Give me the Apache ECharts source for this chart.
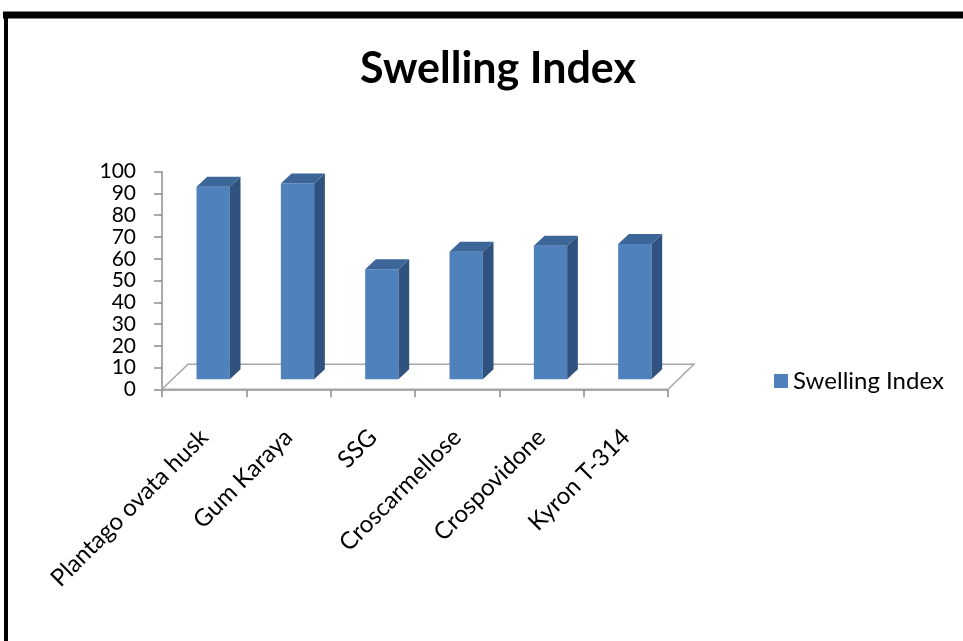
<!DOCTYPE html>
<html>
<head>
<meta charset="utf-8">
<script src="https://cdn.jsdelivr.net/npm/echarts@6/dist/echarts.min.js"></script>
<style>
  html, body { margin: 0; padding: 0; background: #fff; }
  #chart { width: 963px; height: 641px; }
</style>
</head>
<body>
<div id="chart"></div>
<script>
var categories = ['Plantago ovata husk', 'Gum Karaya', 'SSG', 'Croscarmellose', 'Crospovidone', 'Kyron T-314'];
var swellingIndex = [88.5, 90, 50.6, 58.6, 61.4, 62.2];
var yTicks = [0, 10, 20, 30, 40, 50, 60, 70, 80, 90, 100];

var FONT = 'Lato';
var front = '#4f81bd', side = '#30527e', topc = '#3c6598';

var chart = echarts.init(document.getElementById('chart'));

chart.setOption({
  backgroundColor: '#fff',
  animation: false,
  title: {
    text: 'Swelling Index',
    left: 355,
    top: 43,
    textStyle: { fontFamily: FONT, fontWeight: 'bold', fontSize: 43, color: '#000' }
  },
  legend: {
    data: ['Swelling Index'],
    left: 769,
    top: 364,
    icon: 'rect',
    itemWidth: 14,
    itemHeight: 14,
    itemGap: 8,
    textStyle: { fontFamily: FONT, fontSize: 24, color: '#000' }
  },
  graphic: [
    // outer frame (only top and left edges visible)
    { type: 'line', shape: { x1: 3, y1: 15, x2: 963, y2: 15 }, style: { stroke: '#000', lineWidth: 7 } },
    { type: 'line', shape: { x1: 6, y1: 12, x2: 6, y2: 641 }, style: { stroke: '#000', lineWidth: 4 } }
  ],
  grid: {
    left: 162,
    right: 295,
    top: 171.7,
    bottom: 251.7,
    containLabel: false,
    outerBoundsMode: 'none'
  },
  xAxis: {
    type: 'category',
    data: categories,
    boundaryGap: true,
    axisLine: { lineStyle: { color: '#8c8c8c', width: 1.5 } },
    axisTick: { show: true, length: 8, lineStyle: { color: '#8c8c8c', width: 1.5 } },
    axisLabel: {
      rotate: 45,
      margin: 44,
      interval: 0,
      fontFamily: FONT,
      fontSize: 24,
      color: '#000'
    },
    splitLine: { show: false }
  },
  yAxis: {
    type: 'value',
    min: 0,
    max: 100,
    interval: 10,
    axisLine: { show: true, lineStyle: { color: '#8c8c8c', width: 1.5 } },
    axisTick: { show: true, length: 8, lineStyle: { color: '#8c8c8c', width: 1.5 } },
    axisLabel: {
      margin: 26,
      fontFamily: FONT,
      fontSize: 21,
      color: '#000',
      formatter: function (v) { return yTicks.indexOf(v) >= 0 ? String(v) : ''; }
    },
    splitLine: { show: false }
  },
  series: [
    {
      // 3D floor under the bars
      type: 'custom',
      name: 'floor',
      silent: true,
      z: 1,
      data: [[0, 0]],
      renderItem: function (params, api) {
        var n = categories.length;
        var band = api.size([1, 0])[0];
        var a = api.coord([0, 0]);
        var b = api.coord([n - 1, 0]);
        var xl = a[0] - band / 2, xr = b[0] + band / 2, y = a[1];
        var dx = 26, dy = -25;
        return {
          type: 'polygon',
          shape: { points: [[xl, y], [xl + dx, y + dy], [xr + dx, y + dy], [xr, y]] },
          style: { fill: '#fff', stroke: '#a6a6a6', lineWidth: 1.5 }
        };
      }
    },
    {
      type: 'custom',
      name: 'Swelling Index',
      z: 3,
      itemStyle: { color: front },
      data: swellingIndex.map(function (v, i) { return [i, v]; }),
      encode: { x: 0, y: 1 },
      renderItem: function (params, api) {
        var i = api.value(0), v = api.value(1);
        var base = api.coord([i, 0]);
        var top = api.coord([i, v]);
        var band = api.size([1, 0])[0];
        var w = band * 0.395;
        var ox = 9, oy = -10, dx = 10.7, dy = -10;
        var x0 = base[0] - w / 2 + ox, x1 = x0 + w;
        var yb = base[1] + oy, yt = top[1] + oy;
        return {
          type: 'group',
          children: [
            { type: 'rect', shape: { x: x0, y: yt, width: w, height: yb - yt }, style: { fill: front } },
            { type: 'polygon', shape: { points: [[x1, yt], [x1 + dx, yt + dy], [x1 + dx, yb + dy], [x1, yb]] }, style: { fill: side } },
            { type: 'polygon', shape: { points: [[x0, yt], [x1, yt], [x1 + dx, yt + dy], [x0 + dx, yt + dy]] }, style: { fill: topc } }
          ]
        };
      }
    }
  ]
});
</script>
</body>
</html>
